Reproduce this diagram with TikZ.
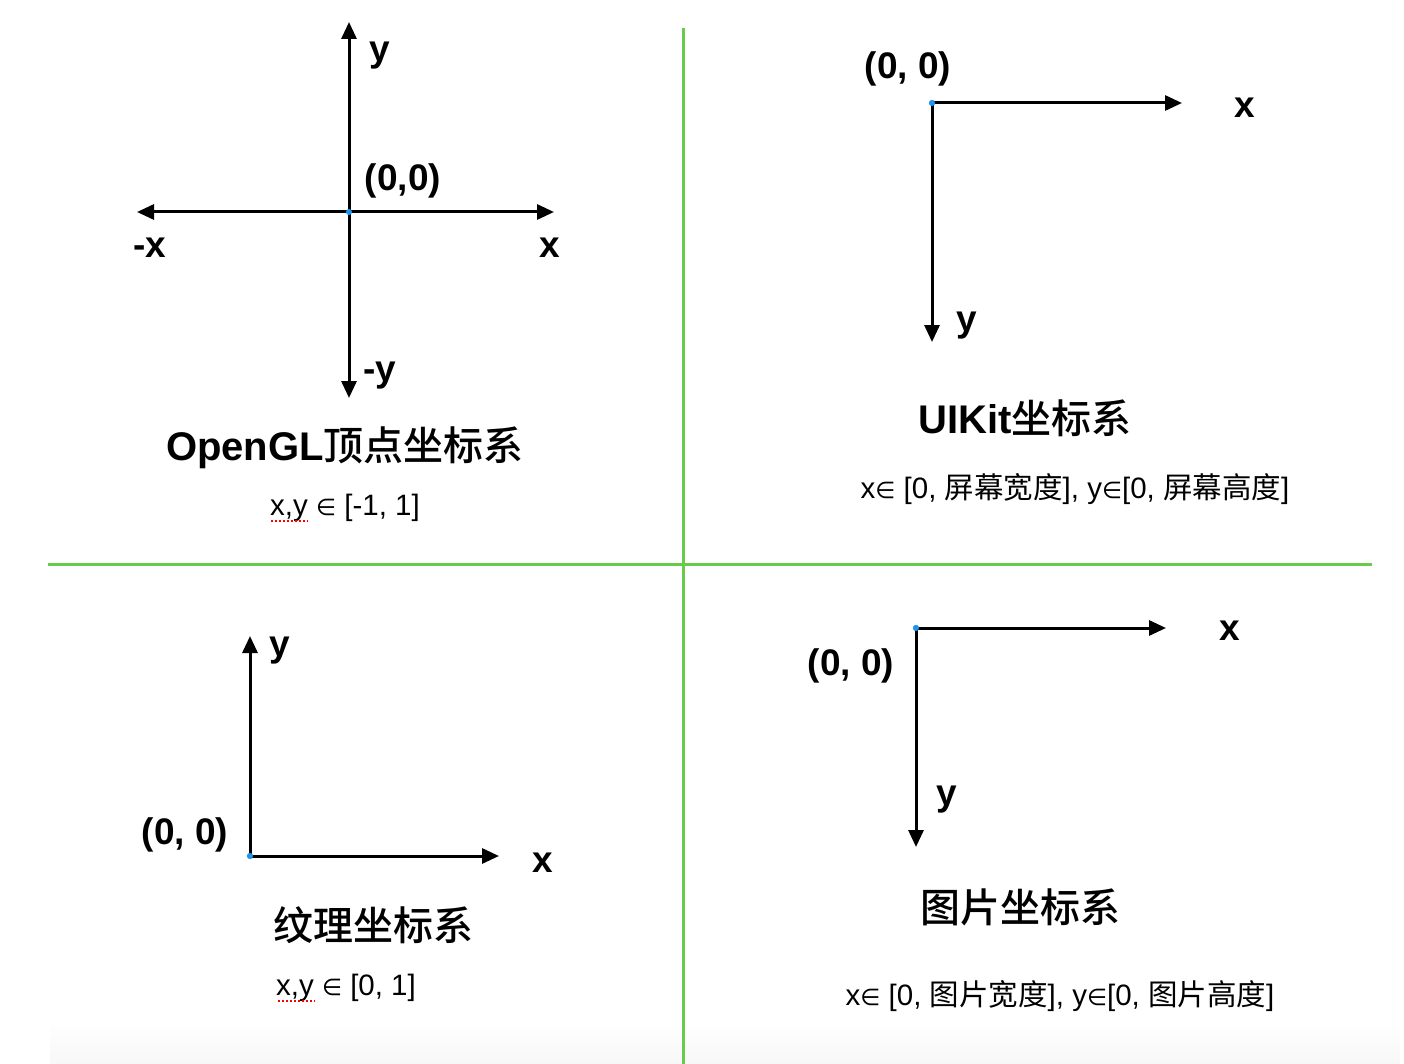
\documentclass[tikz,border=0pt]{standalone}
\usepackage{fontspec}
\setmainfont{Liberation Sans}
\newfontfamily\cjk{Noto Sans CJK SC}
\newfontfamily\cjkm{Noto Sans CJK SC Medium}
\newfontfamily\symfont{DejaVu Sans}
\usetikzlibrary{arrows.meta}

\definecolor{divgreen}{RGB}{104,204,74}
\definecolor{dotblue}{RGB}{30,150,240}

\newcommand{\elem}{{\symfont\fontsize{23}{27}\selectfont ∈}}
\newcommand{\hanmd}[1]{{\cjkm\mdseries #1}}

\tikzset{
  axis/.style={line width=3pt, -{Triangle[length=17pt,width=15pt]}},
  axisboth/.style={line width=3pt, {Triangle[length=17pt,width=15pt]}-{Triangle[length=17pt,width=15pt]}},
  divider/.style={line width=3pt, draw=divgreen},
  origin/.style={circle, fill=dotblue, inner sep=0pt, minimum size=6pt},
  lbl/.style={font=\fontsize{37}{41}\selectfont\bfseries, inner sep=0pt},
  ttl/.style={font=\fontsize{40}{46}\selectfont\bfseries, inner sep=0pt},
  rng/.style={font=\fontsize{29.5}{33}\selectfont, inner sep=0pt},
  squiggle/.style={draw=red, line width=2pt, dotted}
}

\begin{document}
\begin{tikzpicture}[x=1pt, y=-1pt, line cap=butt, line join=miter]

\fill[white] (0,0) rectangle (1404,1064);
\useasboundingbox (0,0) rectangle (1404,1064);
\shade[top color=white, bottom color=gray!6] (50,1020) rectangle (1400,1064);

% Dividers
\coordinate (Vtop) at (683,28);
\coordinate (Vbot) at (683,1064);
\coordinate (Hleft) at (48,564);
\coordinate (Hright) at (1372,564);
\draw[divider] (Vtop) -- (Vbot);
\draw[divider] (Hleft) -- (Hright);

% OpenGL
\coordinate (Ytop) at (349,22);
\coordinate (Ybot) at (349,398);
\coordinate (Xleft) at (137,212);
\coordinate (Xright) at (554,212);
\draw[axisboth] (Ybot) -- (Ytop);
\draw[axisboth] (Xleft) -- (Xright);
\node[origin] (gl) at (349,212) {};
\node[lbl] (glY) at (380,56) {y};
\node[lbl] (glO) at (403,181) {(0,0)};
\node[lbl] (glNX) at (150,248) {-x};
\node[lbl] (glX) at (550,248) {x};
\node[lbl] (glNY) at (380,376) {-y};
\node[ttl] (glT) at (345,448) {OpenGL\hanmd{顶点坐标系}};
\node[rng] (glR) at (345,508) {x,y \elem{} [-1, 1]};
\draw[squiggle] (271,521) -- (308,521);

% UIKit
\coordinate (uiX) at (1182,103);
\coordinate (uiY) at (932,342);
\node[origin] (ui) at (932,103) {};
\draw[axis] (ui.center) -- (uiX);
\draw[axis] (ui.center) -- (uiY);
\node[origin] at (ui) {};
\node[lbl] (uiO) at (908,69) {(0, 0)};
\node[lbl] (uiXl) at (1245,108) {x};
\node[lbl] (uiYl) at (967,326) {y};
\node[ttl] (uiT) at (1025,418) {UIKit\hanmd{坐标系}};
\node[rng] (uiR) at (1075,489) {x\elem{} [0, {\cjk 屏幕宽度}], y\elem{}[0, {\cjk 屏幕高度}]};

% Texture
\coordinate (txY) at (250,636);
\coordinate (txX) at (499,856);
\node[origin] (tx) at (250,856) {};
\draw[axis] (tx.center) -- (txY);
\draw[axis] (tx.center) -- (txX);
\node[origin] at (tx) {};
\node[lbl] (txYl) at (280,651) {y};
\node[lbl] (txO) at (185,835) {(0, 0)};
\node[lbl] (txXl) at (543,863) {x};
\node[ttl] (txT) at (373,925) {\hanmd{纹理坐标系}};
\node[rng] (txR) at (346,988) {x,y \elem{} [0, 1]};
\draw[squiggle] (278,1001) -- (315,1001);

% Image
\coordinate (imX) at (1166,628);
\coordinate (imY) at (916,847);
\node[origin] (im) at (916,628) {};
\draw[axis] (im.center) -- (imX);
\draw[axis] (im.center) -- (imY);
\node[origin] at (im) {};
\node[lbl] (imXl) at (1230,631) {x};
\node[lbl] (imO) at (851,666) {(0, 0)};
\node[lbl] (imYl) at (947,800) {y};
\node[ttl] (imT) at (1020,907) {\hanmd{图片坐标系}};
\node[rng] (imR) at (1060,996) {x\elem{} [0, {\cjk 图片宽度}], y\elem{}[0, {\cjk 图片高度}]};

\end{tikzpicture}
\end{document}
